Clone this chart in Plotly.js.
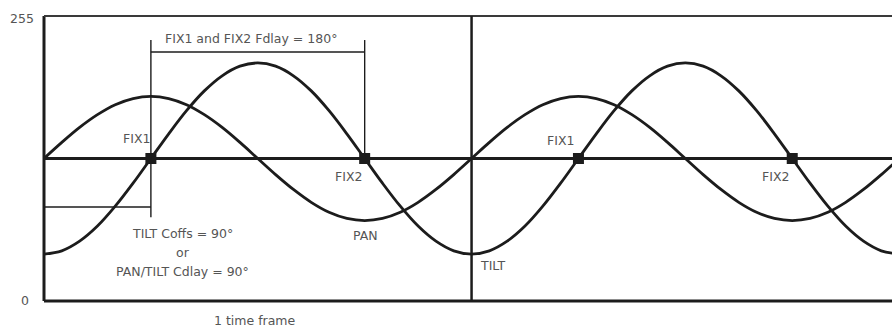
<!DOCTYPE html>
<html>
<head>
<meta charset="utf-8">
<script src="https://cdn.plot.ly/plotly-3.0.1.min.js"></script>
<style>html,body{margin:0;padding:0;background:#fff;}#chart{width:892px;height:327px;}</style>
</head>
<body>
<div id="chart"></div>
<script>
// phase in degrees (one time frame = 360)
const phase = [0,15,30,45,60,75,90,105,120,135,150,165,180,195,210,225,240,255,270,285,300,315,330,345,
               360,375,390,405,420,435,450,465,480,495,510,525,540,555,570,585,600,615,630,645,660,675,690,705,720];
// PAN channel value (0-255)
const pan = [127.5,141.9,155.3,166.7,175.6,181.1,183,181.1,175.6,166.7,155.3,141.9,127.5,113.1,99.8,88.3,79.4,73.9,72,73.9,79.4,88.3,99.8,113.1,
             127.5,141.9,155.3,166.7,175.6,181.1,183,181.1,175.6,166.7,155.3,141.9,127.5,113.1,99.8,88.3,79.4,73.9,72,73.9,79.4,88.3,99.8,113.1,127.5];
// TILT channel value (0-255)
const tilt = [42,44.9,53.5,67,84.8,105.4,127.5,149.6,170.3,188,201.5,210.1,213,210.1,201.5,188,170.3,149.6,127.5,105.4,84.8,67,53.5,44.9,
              42,44.9,53.5,67,84.8,105.4,127.5,149.6,170.3,188,201.5,210.1,213,210.1,201.5,188,170.3,149.6,127.5,105.4,84.8,67,53.5,44.9,42];
// fixture points on the centre line
const fixPhase = [90,270,450,630];
const fixValue = [127.5,127.5,127.5,127.5];
const fixLabels = ["FIX1","FIX2","FIX1","FIX2"];
const yTickLabels = ["0","255"];

const ink = "#1c1c1c";
const grey = "#555555";
const font = {family:"DejaVu Sans", size:12.5, color:grey};

const traces = [
  {x:phase, y:pan, mode:"lines", line:{color:ink,width:2.8,shape:"spline",smoothing:1}, hoverinfo:"skip"},
  {x:phase, y:tilt, mode:"lines", line:{color:ink,width:2.8,shape:"spline",smoothing:1}, hoverinfo:"skip"},
  {x:fixPhase, y:fixValue, mode:"markers", marker:{symbol:"square",size:11,color:ink,line:{width:0}}, hoverinfo:"skip"}
];

const shapes = [
  // frame
  {type:"line",xref:"paper",yref:"paper",x0:0,x1:0,y0:0,y1:1,line:{color:ink,width:3}},
  {type:"line",xref:"paper",yref:"paper",x0:0,x1:1,y0:1,y1:1,line:{color:"#3a3a3a",width:2}},
  {type:"line",xref:"paper",yref:"paper",x0:0,x1:1,y0:0,y1:0,line:{color:ink,width:3}},
  // centre line
  {type:"line",xref:"paper",yref:"y",x0:0,x1:1,y0:127.5,y1:127.5,line:{color:ink,width:3}},
  // one time frame divider
  {type:"line",xref:"x",yref:"paper",x0:360,x1:360,y0:0,y1:1,line:{color:ink,width:2.5}},
  // delay bracket
  {type:"line",xref:"x",yref:"y",x0:90,x1:90,y0:75,y1:233.5,line:{color:ink,width:1.4}},
  {type:"line",xref:"x",yref:"y",x0:90,x1:270,y0:222.8,y1:222.8,line:{color:ink,width:1.4}},
  {type:"line",xref:"x",yref:"y",x0:270,x1:270,y0:127.5,y1:233.5,line:{color:ink,width:1.4}},
  {type:"line",xref:"x",yref:"y",x0:0,x1:90,y0:84.1,y1:84.1,line:{color:ink,width:1.4}}
];

const ann = (text,x,y,opts) => Object.assign({text:text,x:x,y:y,xref:"x",yref:"y",xanchor:"center",yanchor:"middle",showarrow:false,font:font},opts||{});
const annotations = [
  ann(yTickLabels[1],0,255,{xref:"paper",xshift:-22,yshift:-2}),
  ann(yTickLabels[0],0,0,{xref:"paper",xshift:-19,yshift:1}),
  ann("FIX1 and FIX2 Fdlay = 180°",100,235.3,{xanchor:"left"}),
  ann("TILT Coffs = 90°",117,60.8),
  ann("or",117,43.8),
  ann("PAN/TILT Cdlay = 90°",117,26.8),
  ann(fixLabels[0],77.5,145.8),
  ann(fixLabels[1],256,111),
  ann("PAN",271,59),
  ann("TILT",378,32.2),
  ann(fixLabels[2],435.3,144),
  ann(fixLabels[3],616.3,111.8),
  ann("1 time frame",178,0,{yref:"paper",yshift:-19})
];

const layout = {
  width:892, height:327,
  margin:{l:44,r:0,t:16,b:26},
  paper_bgcolor:"#fff", plot_bgcolor:"#fff",
  showlegend:false,
  xaxis:{range:[0,714],showgrid:false,zeroline:false,showticklabels:false,ticks:"",showline:false,fixedrange:true},
  yaxis:{range:[0,255],showgrid:false,zeroline:false,showticklabels:false,ticks:"",showline:false,fixedrange:true},
  shapes:shapes,
  annotations:annotations
};
Plotly.newPlot("chart",traces,layout,{staticPlot:true,displayModeBar:false});
</script>
</body>
</html>
